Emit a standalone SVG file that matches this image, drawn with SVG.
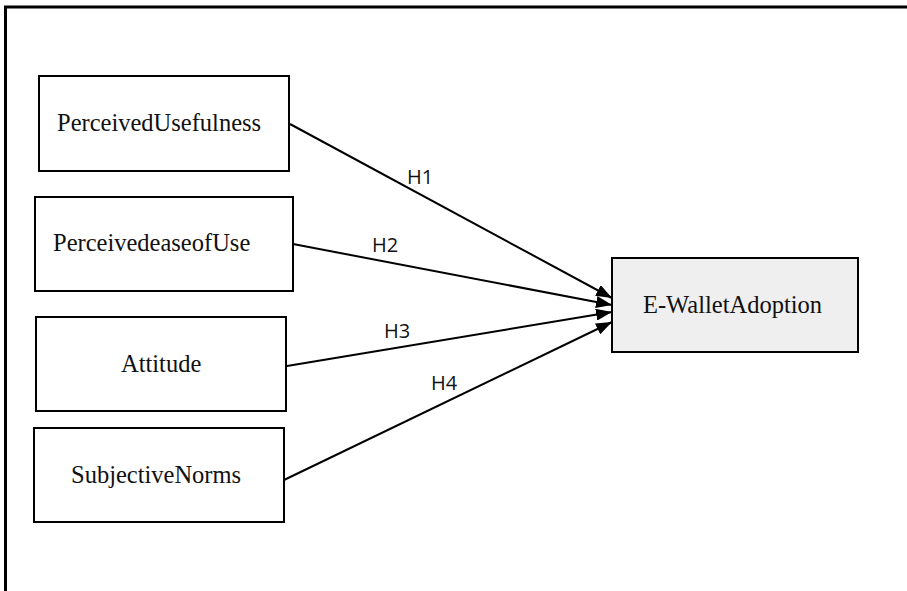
<svg xmlns="http://www.w3.org/2000/svg" width="907" height="591" viewBox="0 0 907 591">
  <style>
    .box { fill: #ffffff; stroke: #000000; stroke-width: 2; }
    .target { fill: #efefef; stroke: #000000; stroke-width: 2; }
    .name { font-family: "Liberation Serif", "Times New Roman", serif; font-size: 24.5px; fill: #111111; }
    .edge { stroke: #000000; stroke-width: 2; fill: none; marker-end: url(#arrow); }
    .hyp { font-family: "Open Sans", "Noto Sans", sans-serif; font-size: 20px; fill: #111111; }
  </style>
  <defs>
    <marker id="arrow" viewBox="0 0 16 12" refX="16" refY="6" markerWidth="16" markerHeight="12" markerUnits="userSpaceOnUse" orient="auto">
      <path d="M0,0 L16,6 L0,12 Z" fill="#000000"/>
    </marker>
  </defs>
  <rect width="907" height="591" fill="#ffffff"/>

  <!-- frame: top and left sides only -->
  <path d="M5.5,591 L5.5,7 L907,7" fill="none" stroke="#000000" stroke-width="3"/>

  <!-- connectors -->
  <g id="connectors">
    <line class="edge" x1="290" y1="124" x2="612" y2="298"/>
    <line class="edge" x1="293" y1="244" x2="612" y2="305"/>
    <line class="edge" x1="287" y1="366" x2="612" y2="312"/>
    <line class="edge" x1="284" y1="480" x2="612" y2="322"/>
    <text class="hyp" x="407" y="184">H1</text>
    <text class="hyp" x="372" y="252">H2</text>
    <text class="hyp" x="384" y="338">H3</text>
    <text class="hyp" x="431" y="390">H4</text>
  </g>

  <g id="perceived-usefulness">
    <rect class="box" x="39" y="76" width="250" height="95"/>
    <text class="name" x="57" y="131">PerceivedUsefulness</text>
  </g>

  <g id="perceived-ease-of-use">
    <rect class="box" x="35" y="197" width="258" height="94"/>
    <text class="name" x="53" y="251">PerceivedeaseofUse</text>
  </g>

  <g id="attitude">
    <rect class="box" x="36" y="317" width="250" height="94"/>
    <text class="name" x="121" y="372">Attitude</text>
  </g>

  <g id="subjective-norms">
    <rect class="box" x="34" y="428" width="250" height="94"/>
    <text class="name" x="71" y="483">SubjectiveNorms</text>
  </g>

  <g id="e-wallet-adoption">
    <rect class="target" x="612" y="258" width="246" height="94"/>
    <text class="name" x="643" y="313">E-WalletAdoption</text>
  </g>
</svg>
